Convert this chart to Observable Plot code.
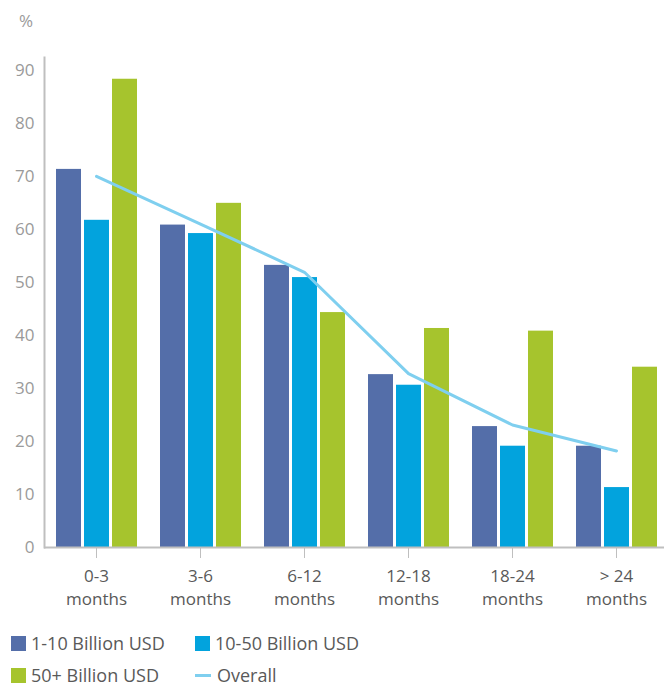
<!DOCTYPE html>
<html>
<head>
<meta charset="utf-8">
<script src="https://cdn.jsdelivr.net/npm/d3@7"></script>
<script src="https://cdn.jsdelivr.net/npm/@observablehq/plot@0.6"></script>
<style>
  html, body { margin: 0; padding: 0; background: #fff; }
  body { width: 664px; height: 687px; font-family: "Open Sans", sans-serif; }
  #unit { height: 40px; line-height: 42px; padding-left: 19px; font-size: 17px; color: #9a9a9a; }
  #legend { display: grid; grid-template-columns: 184px auto; grid-template-rows: 36px 28px; padding-left: 11px; }
  .item { display: flex; align-items: center; font-size: 18px; line-height: 18px; color: #595959; white-space: nowrap; }
  .item span { line-height: 18px; }
  .sw { width: 15px; height: 15px; margin-right: 5px; flex: none; }
  .ln { width: 16px; height: 3px; margin-right: 6px; flex: none; }
</style>
</head>
<body>
<div id="unit">%</div>
<div id="chart"></div>
<div id="legend"></div>
<script>
const categories = ["0-3 months", "3-6 months", "6-12 months", "12-18 months", "18-24 months", "> 24 months"];
const tickLine1 = ["0-3", "3-6", "6-12", "12-18", "18-24", "> 24"];
const tickLine2 = ["months", "months", "months", "months", "months", "months"];
const seriesNames = ["1-10 Billion USD", "10-50 Billion USD", "50+ Billion USD"];
const seriesColors = ["#546ea9", "#02a3dd", "#a6c42d"];
const values1to10 = [71.3, 60.8, 53.2, 32.6, 22.8, 19.1];
const values10to50 = [61.7, 59.2, 50.9, 30.6, 19.1, 11.3];
const values50plus = [88.3, 64.9, 44.3, 41.3, 40.8, 34.0];
const overallName = "Overall";
const overallColor = "#7fcfef";
const overallValues = [70.0, 61.0, 51.9, 32.8, 23.1, 18.2];
const yTicks = [0, 10, 20, 30, 40, 50, 60, 70, 80, 90];

const seriesValues = [values1to10, values10to50, values50plus];
const rows = seriesValues.map((vals, s) => categories.map((c, i) => ({cat: c, series: seriesNames[s], value: vals[i]})));
const overall = categories.map((c, i) => ({cat: c, value: overallValues[i]}));
const line1Of = new Map(categories.map((c, i) => [c, tickLine1[i]]));
const line2Of = new Map(categories.map((c, i) => [c, tickLine2[i]]));

const insets = [[12, 67], [40, 39], [68, 11]];

const chart = Plot.plot({
  width: 664,
  height: 585,
  marginTop: 17,
  marginBottom: 78,
  marginLeft: 44,
  marginRight: 0,
  style: {fontFamily: "Open Sans, sans-serif", background: "#fff"},
  x: {domain: categories, range: [44, 668], padding: 0},
  y: {domain: [0, 92.4]},
  color: {domain: seriesNames, range: seriesColors},
  marks: [
    ...rows.map((r, s) => Plot.barY(r, {x: "cat", y: "value", fill: "series", insetLeft: insets[s][0], insetRight: insets[s][1]})),
    Plot.lineY(overall, {x: "cat", y: "value", stroke: overallColor, strokeWidth: 3}),
    Plot.ruleY([0], {stroke: "#bfbfbf", strokeWidth: 2}),
    Plot.frame({anchor: "left", stroke: "#bfbfbf", strokeWidth: 2}),
    Plot.axisY({ticks: yTicks, tickSize: 0, tickPadding: 10, fontSize: 17, fill: "#9a9a9a", label: null}),
    Plot.axisX({tickSize: 11, tickPadding: 11, fontSize: 17, stroke: "#bfbfbf", fill: "#595959", tickFormat: d => line1Of.get(d), label: null}),
    Plot.axisX({tickSize: 0, tickPadding: 45, fontSize: 17, fill: "#595959", tickFormat: d => line2Of.get(d), label: null})
  ]
});
document.getElementById("chart").appendChild(chart);

const legend = document.getElementById("legend");
const entries = seriesNames.map((n, i) => ({name: n, color: seriesColors[i], kind: "sw"}))
  .concat([{name: overallName, color: overallColor, kind: "ln"}]);
for (const e of entries) {
  const it = document.createElement("div");
  it.className = "item";
  const m = document.createElement("span");
  m.className = e.kind;
  m.style.background = e.color;
  it.appendChild(m);
  const t = document.createElement("span");
  t.textContent = e.name;
  it.appendChild(t);
  legend.appendChild(it);
}
</script>
</body>
</html>
